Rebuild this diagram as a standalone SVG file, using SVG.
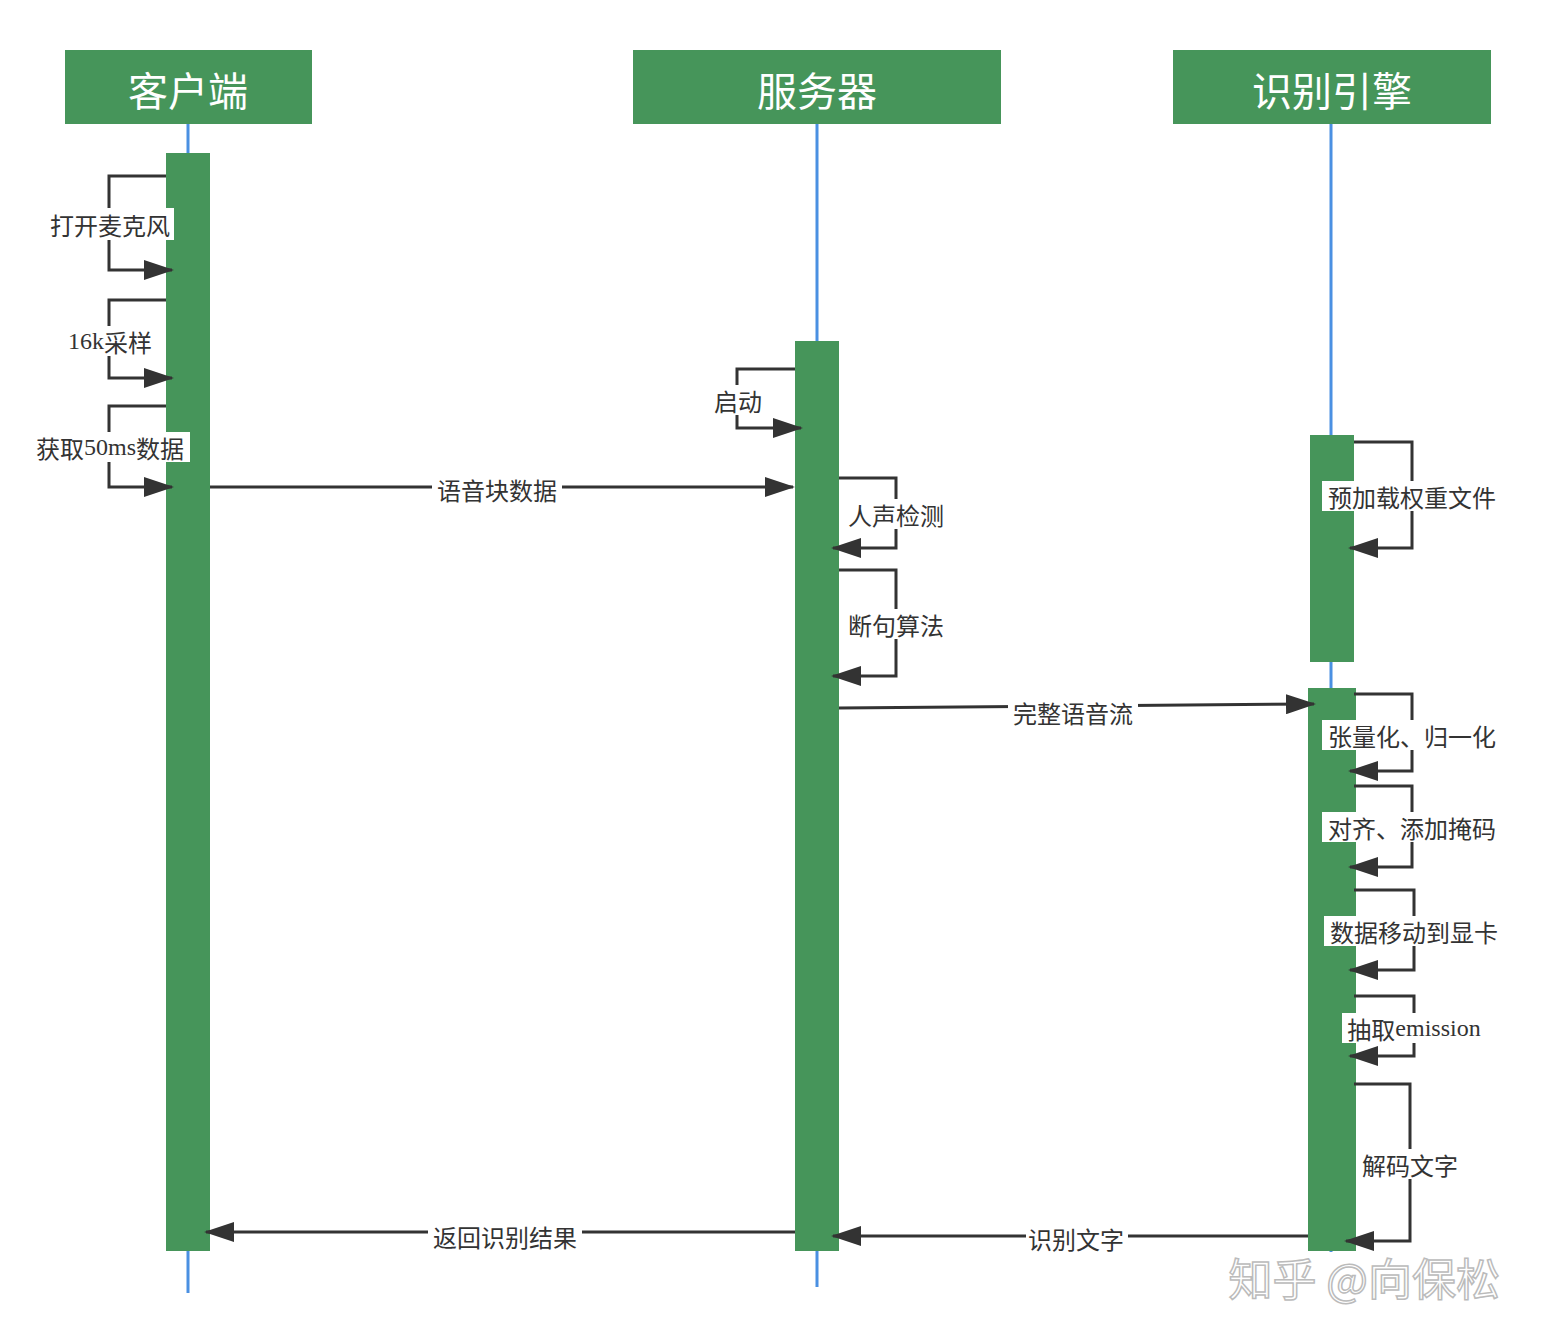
<svg xmlns="http://www.w3.org/2000/svg" width="1542" height="1344" viewBox="0 0 1542 1344">
<style>
.hd{fill:#46955A}
.ht{fill:#fff;font:40px "Noto Sans CJK SC","Noto Sans",sans-serif;text-anchor:middle}
.ll{stroke:#4A90E2;stroke-width:3;fill:none}
.bar{fill:#46955A}
.c{stroke:#333;stroke-width:3;fill:none}
.lb{fill:#333;font:24px "Noto Sans CJK SC",sans-serif;text-anchor:middle;dominant-baseline:central}
.bg{fill:#fff}
</style>
<defs>
<marker id="a" markerWidth="30" markerHeight="20" refX="28" refY="10" orient="auto" markerUnits="userSpaceOnUse"><path d="M0,0L30,10L0,20z" fill="#333"/></marker>
</defs>
<rect width="1542" height="1344" fill="#fff"/>
<g id="lifelines">
<line class="ll" x1="188" y1="124" x2="188" y2="1293"/>
<line class="ll" x1="817" y1="124" x2="817" y2="1287"/>
<line class="ll" x1="1331" y1="124" x2="1331" y2="1252"/>
</g>
<g id="client"><rect class="hd" x="65" y="50" width="247" height="74"/><text class="ht" x="188" y="106">客户端</text><rect class="bar" x="166" y="153" width="44" height="1098"/></g>
<g id="server"><rect class="hd" x="633" y="50" width="368" height="74"/><text class="ht" x="817" y="106">服务器</text><rect class="bar" x="795" y="341" width="44" height="910"/></g>
<g id="engine"><rect class="hd" x="1173" y="50" width="318" height="74"/><text class="ht" x="1332" y="106">识别引擎</text><rect class="bar" x="1310" y="435" width="44" height="227"/><rect class="bar" x="1308" y="688" width="48" height="563"/></g>
<g id="connectors">
<path class="c" marker-end="url(#a)" d="M166,176H109V270H172"/>
<path class="c" marker-end="url(#a)" d="M166,300H109V378H172"/>
<path class="c" marker-end="url(#a)" d="M166,406H109V487H172"/>
<path class="c" marker-end="url(#a)" d="M210,487H793"/>
<path class="c" marker-end="url(#a)" d="M795,369H737V428H801"/>
<path class="c" marker-end="url(#a)" d="M839,478H896V548H833"/>
<path class="c" marker-end="url(#a)" d="M839,570H896V676H833"/>
<path class="c" marker-end="url(#a)" d="M839,708L1314,704"/>
<path class="c" marker-end="url(#a)" d="M1354,442H1412V548H1350"/>
<path class="c" marker-end="url(#a)" d="M1354,694H1412V771H1350"/>
<path class="c" marker-end="url(#a)" d="M1354,786H1412V867H1350"/>
<path class="c" marker-end="url(#a)" d="M1354,890H1414V970H1350"/>
<path class="c" marker-end="url(#a)" d="M1354,996H1414V1056H1350"/>
<path class="c" marker-end="url(#a)" d="M1354,1084H1410V1241H1346"/>
<path class="c" marker-end="url(#a)" d="M1308,1236H833"/>
<path class="c" marker-end="url(#a)" d="M795,1232H206"/>
</g>
<g id="labels">
<rect class="bg" x="46" y="208" width="128" height="32"/><text class="lb" x="110" y="224">打开麦克风</text>
<rect class="bg" x="64" y="326" width="92" height="30"/><text class="lb" x="110" y="341"><tspan font-family="Liberation Serif">16k</tspan>采样</text>
<rect class="bg" x="30" y="432" width="160" height="30"/><text class="lb" x="110" y="447">获取<tspan font-family="Liberation Serif">50ms</tspan>数据</text>
<rect class="bg" x="432" y="474" width="130" height="30"/><text class="lb" x="497" y="489">语音块数据</text>
<rect class="bg" x="711" y="385" width="54" height="30"/><text class="lb" x="738" y="400">启动</text>
<rect class="bg" x="845" y="499" width="102" height="30"/><text class="lb" x="896" y="514">人声检测</text>
<rect class="bg" x="845" y="609" width="102" height="30"/><text class="lb" x="896" y="624">断句算法</text>
<rect class="bg" x="1008" y="697" width="130" height="30"/><text class="lb" x="1073" y="712">完整语音流</text>
<rect class="bg" x="1322" y="481" width="180" height="30"/><text class="lb" x="1412" y="496">预加载权重文件</text>
<rect class="bg" x="1322" y="720" width="180" height="30"/><text class="lb" x="1412" y="735">张量化、归一化</text>
<rect class="bg" x="1322" y="812" width="180" height="30"/><text class="lb" x="1412" y="827">对齐、添加掩码</text>
<rect class="bg" x="1324" y="916" width="180" height="30"/><text class="lb" x="1414" y="931">数据移动到显卡</text>
<rect class="bg" x="1342" y="1013" width="144" height="30"/><text class="lb" x="1414" y="1028">抽取<tspan font-family="Liberation Serif">emission</tspan></text>
<rect class="bg" x="1358" y="1149" width="104" height="30"/><text class="lb" x="1410" y="1164">解码文字</text>
<rect class="bg" x="1026" y="1223" width="102" height="30"/><text class="lb" x="1076" y="1238">识别文字</text>
<rect class="bg" x="428" y="1221" width="154" height="30"/><text class="lb" x="505" y="1236">返回识别结果</text>
</g>
<text x="1500" y="1296" fill="#fff" stroke="#bbb" stroke-width="1.5" font-family="Noto Sans CJK SC,sans-serif" font-size="44" text-anchor="end">知乎 @向保松</text>
</svg>
